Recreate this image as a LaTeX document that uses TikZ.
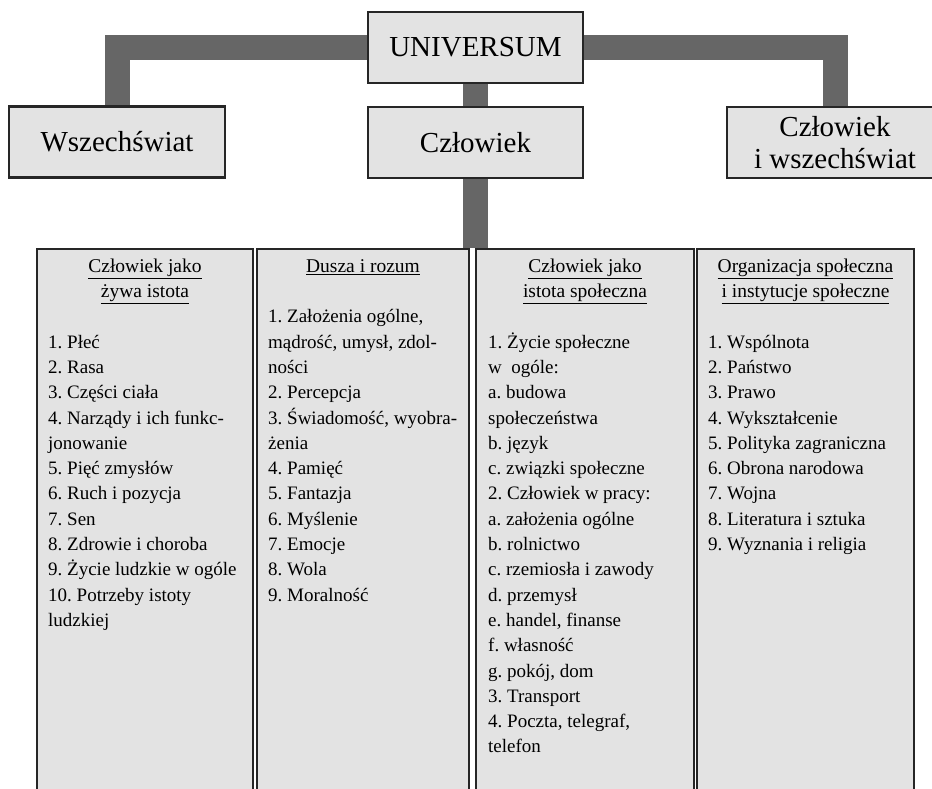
\documentclass[tikz,border=0pt]{standalone}
\usepackage{fontspec}
\setmainfont{Liberation Serif}
\usepackage{tikz}
\usetikzlibrary{backgrounds}
\frenchspacing
\definecolor{boxgray}{HTML}{E3E3E3}
\definecolor{bargray}{HTML}{666666}
\definecolor{edgegray}{HTML}{262626}
\tikzstyle{box} = [rectangle, draw=edgegray, line width=2.2pt, fill=boxgray, minimum width=216pt, minimum height=71pt, inner sep=0pt, align=center, font=\fontsize{29}{32}\selectfont]
\tikzstyle{listbox} = [rectangle, draw=edgegray, line width=2.2pt, fill=boxgray, minimum height=600pt, anchor=north]
\tikzstyle{hdrtext} = [anchor=north, inner sep=0pt, align=center, font=\fontsize{19.5}{25.3}\selectfont]
\tikzstyle{listtext} = [anchor=north west, inner sep=0pt, align=left, font=\fontsize{19}{25.3}\selectfont]
\tikzstyle{bar} = [draw=bargray, line width=25pt]

\begin{document}
\begin{tikzpicture}[x=1pt, y=-1pt]
    \useasboundingbox (0,0) rectangle (932,789);
    \clip (0,0) rectangle (932,789);

    % top level
    \node [box, minimum width=215pt] (univ) at (475.5,47.5) {UNIVERSUM};
    \node [box] (wsz) at (117,142) {Wszechświat};
    \node [box, minimum width=215pt] (czl) at (475.5,142.5) {Człowiek};
    \node [box] (cuw) at (835,142.5) {Człowiek\\i wszechświat};

    % columns
    \node [listbox, minimum width=216pt] (c1) at (145,248) {};
    \node [listbox, minimum width=212pt] (c2) at (363,248) {};
    \node [listbox, minimum width=218pt] (c3) at (585,248) {};
    \node [listbox, minimum width=217pt] (c4) at (805.5,248) {};

    % column headers
    \node [hdrtext] (h1) at (145,254.3) {\strut\underline{Człowiek jako}\\\underline{żywa istota}};
    \node [hdrtext] (h2) at (363,254.3) {\strut\underline{Dusza i rozum}};
    \node [hdrtext] (h3) at (585,254.3) {\strut\underline{Człowiek jako}\\\underline{istota społeczna}};
    \node [hdrtext] (h4) at (805.5,254.3) {\strut\underline{Organizacja społeczna}\\\underline{i instytucje społeczne}};

    % column lists
    \node [listtext] (l1) at (48,330.2) {\strut 1. Płeć\\
      2. Rasa\\
      3. Części ciała\\
      4. Narządy i ich funkc-\\
      jonowanie\\
      5. Pięć zmysłów\\
      6. Ruch i pozycja\\
      7. Sen\\
      8. Zdrowie i choroba\\
      9. Życie ludzkie w ogóle\\
      10. Potrzeby istoty\\
      ludzkiej};
    \node [listtext] (l2) at (268,304.9) {\strut 1. Założenia ogólne,\\
      mądrość, umysł, zdol-\\
      ności\\
      2. Percepcja\\
      3. Świadomość, wyobra-\\
      żenia\\
      4. Pamięć\\
      5. Fantazja\\
      6. Myślenie\\
      7. Emocje\\
      8. Wola\\
      9. Moralność};
    \node [listtext] (l3) at (488,330.2) {\strut 1. Życie społeczne\\
      w~~ogóle:\\
      a. budowa\\
      społeczeństwa\\
      b. język\\
      c. związki społeczne\\
      2. Człowiek w pracy:\\
      a. założenia ogólne\\
      b. rolnictwo\\
      c. rzemiosła i zawody\\
      d. przemysł\\
      e. handel, finanse\\
      f. własność\\
      g. pokój, dom\\
      3. Transport\\
      4. Poczta, telegraf,\\
      telefon};
    \node [listtext] (l4) at (708,330.2) {\strut 1. Wspólnota\\
      2. Państwo\\
      3. Prawo\\
      4. Wykształcenie\\
      5. Polityka zagraniczna\\
      6. Obrona narodowa\\
      7. Wojna\\
      8. Literatura i sztuka\\
      9. Wyznania i religia};

    % connectors behind the boxes
    \begin{pgfonlayer}{background}
      \draw [bar] (univ.west) -| (wsz.north);
      \draw [bar] (univ.east) -| (cuw.north);
      \draw [bar] (univ.south) -- (univ.south |- c3.north);
    \end{pgfonlayer}
\end{tikzpicture}
\end{document}
